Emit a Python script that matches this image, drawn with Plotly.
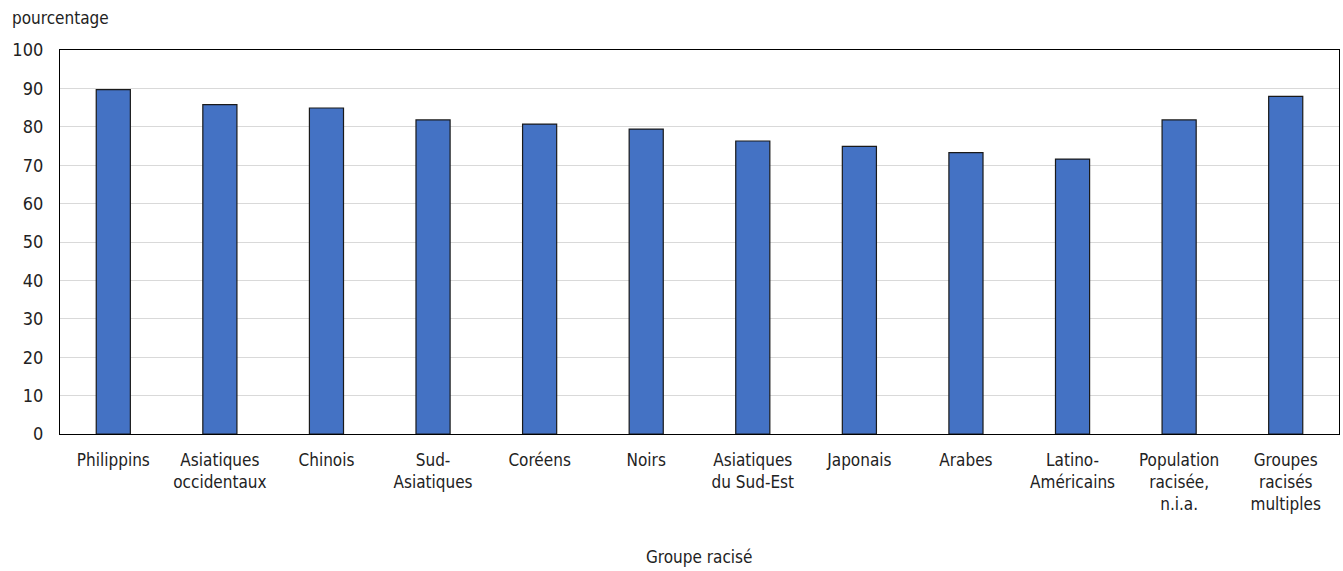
import plotly.graph_objects as go

categories = ["Philippins", "Asiatiques<br>occidentaux", "Chinois", "Sud-<br>Asiatiques", "Coréens",
              "Noirs", "Asiatiques<br>du Sud-Est", "Japonais", "Arabes", "Latino-<br>Américains",
              "Population<br>racisée,<br>n.i.a.", "Groupes<br>racisés<br>multiples"]
values = [89.7, 85.8, 84.9, 81.8, 80.7, 79.4, 76.3, 74.9, 73.3, 71.6, 81.8, 87.9]
y_ticks = [0, 10, 20, 30, 40, 50, 60, 70, 80, 90, 100]

FONT = "DejaVu Sans Condensed, Liberation Sans, sans-serif"
FS = 17
W, H = 1343, 571
PLOT_L, PLOT_T, PLOT_R, PLOT_B = 60, 50, 1339, 434
PH = PLOT_B - PLOT_T

fig = go.Figure(go.Bar(
    x=categories, y=values,
    marker=dict(color="#4472C4", line=dict(color="#1a1a1a", width=1.2)),
    width=0.32,
))

fig.update_layout(
    width=W, height=H,
    margin=dict(l=PLOT_L, r=W - PLOT_R, t=PLOT_T, b=H - PLOT_B),
    plot_bgcolor="white", paper_bgcolor="white",
    font=dict(family=FONT, size=FS, color="#222"),
    showlegend=False,
    xaxis=dict(showline=True, linecolor="black", linewidth=1.3, mirror=True,
               ticks="", tickfont=dict(size=FS), showgrid=False, ticklabelstandoff=10),
    yaxis=dict(range=[0, 100], tickvals=y_ticks, showline=True, linecolor="black",
               linewidth=1.3, mirror=True, gridcolor="#d9d9d9", gridwidth=1.2,
               ticks="", tickfont=dict(size=FS + 1), zeroline=False, ticklabelstandoff=12),
)
fig.add_annotation(text="pourcentage", x=0, xref="paper", xanchor="left", xshift=-(PLOT_L - 10),
                   y=1 + (PLOT_T - 18) / PH, yref="paper", yanchor="middle", showarrow=False,
                   font=dict(size=FS))
fig.add_annotation(text="Groupe racisé", x=0.5, xref="paper", y=-(557 - PLOT_B) / PH,
                   yref="paper", yanchor="middle", showarrow=False, font=dict(size=FS))

fig.write_html("out.html", config={"displayModeBar": False},
               post_script="document.body.style.margin='0';document.body.style.overflow='hidden';")
